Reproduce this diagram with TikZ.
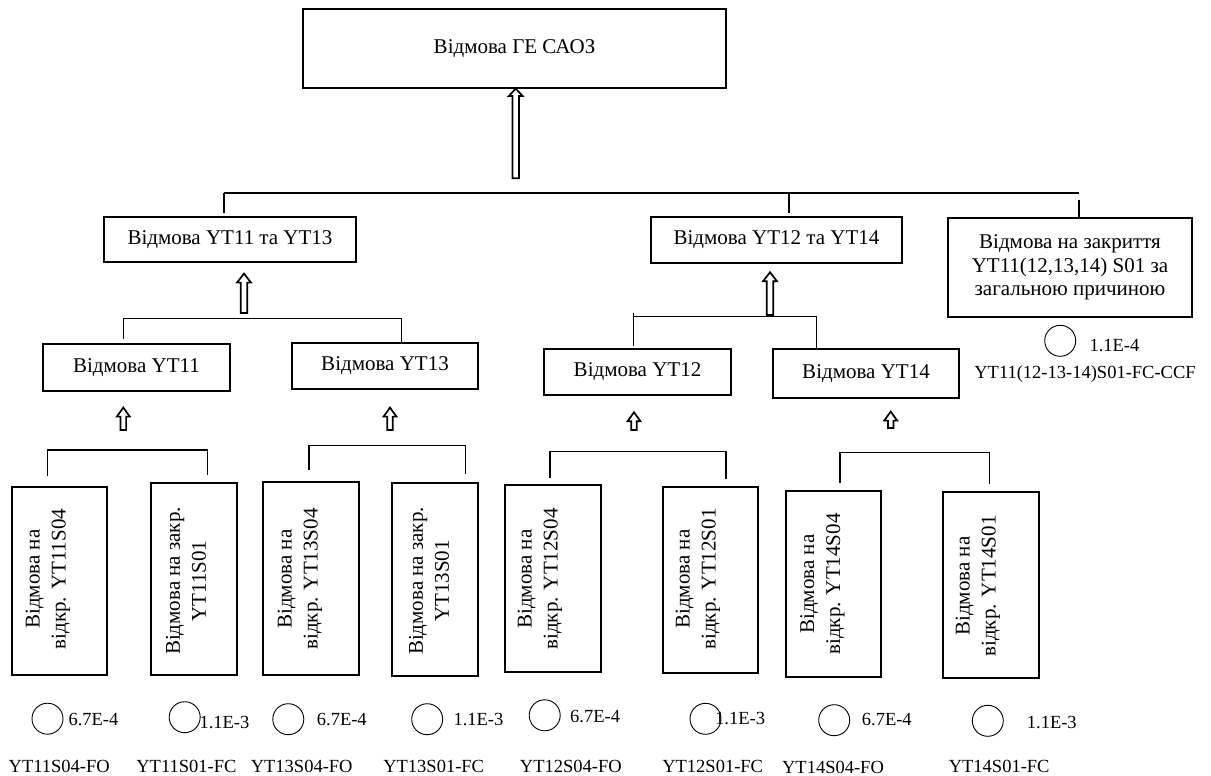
\documentclass[tikz,border=0pt]{standalone}
\usepackage{fontspec}
\setmainfont{Liberation Serif}
\usetikzlibrary{calc}
\begin{document}
\begin{tikzpicture}[x=1pt,y=-1pt,
  box/.style={draw, line width=1.2pt, inner sep=0pt, align=center,
    font=\fontsize{21}{23.5}\selectfont},
  vbox/.style={draw, line width=1.2pt, inner sep=0pt},
  vtext/.style={rotate=90, align=center, inner sep=0pt,
    font=\fontsize{21}{26}\selectfont},
  basic/.style={draw, circle, line width=0.9pt, minimum size=31pt, inner sep=0pt},
  prob/.style={anchor=west, inner sep=0pt, font=\fontsize{18.5}{21}\selectfont},
  evcode/.style={inner sep=0pt, font=\fontsize{18.5}{21}\selectfont},
  link/.style={line width=1.2pt},
  blockarrow/.style n args={3}{line width=1.7pt, to path={
    let \p1=(\tikztostart), \p2=(\tikztotarget) in
    (\x1-#1,\y1) -- (\x1-#1,\y2-#3) -- (\x1-#2,\y2-#3) -- (\x1,\y2)
    -- (\x1+#2,\y2-#3) -- (\x1+#1,\y2-#3) -- (\x1+#1,\y1) -- cycle}},
]
\useasboundingbox (0,0) rectangle (1211,776);

% top event
\node[box, minimum width=423pt, minimum height=79pt] (top) at (514.5,48.5) {Відмова ГЕ САОЗ};

% intermediate events
\node[box, minimum width=252pt, minimum height=45pt] (A) at (230,239.5) {Відмова YT11 та YT13};
\node[box, minimum width=251pt, minimum height=46pt] (B) at (776.5,240) {Відмова YT12 та YT14};
\node[box, minimum width=244pt, minimum height=99pt] (C) at (1070,267.5)
  {Відмова на закриття\\YT11(12,13,14) S01 за\\загальною причиною};

\node[box, minimum width=187pt, minimum height=47pt] (D) at (136.5,367.5) {Відмова YT11};
\node[box, minimum width=186pt, minimum height=46pt] (E) at (385,366) {Відмова YT13};
\node[box, minimum width=187pt, minimum height=46pt] (F) at (637.5,372) {Відмова YT12};
\node[box, minimum width=186pt, minimum height=49pt] (G) at (866,373.5) {Відмова YT14};

% valve failure boxes with vertical captions
\node[vbox, minimum width=95pt, minimum height=188pt] (b1) at (59.5,581) {};
\node[vbox, minimum width=86pt, minimum height=192pt] (b2) at (194,579) {};
\node[vbox, minimum width=96pt, minimum height=193pt] (b3) at (311,578.5) {};
\node[vbox, minimum width=86pt, minimum height=193pt] (b4) at (435,579.5) {};
\node[vbox, minimum width=96pt, minimum height=187pt] (b5) at (553,578.5) {};
\node[vbox, minimum width=95pt, minimum height=186pt] (b6) at (710.5,580) {};
\node[vbox, minimum width=95pt, minimum height=186pt] (b7) at (833.5,584) {};
\node[vbox, minimum width=96pt, minimum height=186pt] (b8) at (991,585) {};

\node[vtext] (t1) at (48,579) {Відмова на\\відкр. YT11S04};
\node[vtext] (t2) at (186,581) {Відмова на закр.\\YT11S01};
\node[vtext] (t3) at (300,579) {Відмова на\\відкр. YT13S04};
\node[vtext] (t4) at (429,581) {Відмова на закр.\\YT13S01};
\node[vtext] (t5) at (540,579) {Відмова на\\відкр. YT12S04};
\node[vtext] (t6) at (698,579) {Відмова на\\відкр. YT12S01};
\node[vtext] (t7) at (822.5,584) {Відмова на\\відкр. YT14S04};
\node[vtext] (t8) at (978,586) {Відмова на\\відкр. YT14S01};

% basic events
\node[basic] (c1) at (47.5,718.7) {};
\node[basic] (c2) at (184.7,717.2) {};
\node[basic] (c3) at (288.3,719.2) {};
\node[basic] (c4) at (427.2,719.2) {};
\node[basic] (c5) at (544.7,715.3) {};
\node[basic] (c6) at (705.5,718.8) {};
\node[basic] (c7) at (834.2,720.2) {};
\node[basic] (c8) at (987.8,720.8) {};
\node[basic] (cc) at (1060.2,340.8) {};

\node[prob] (p1) at (68.3,719.7) {6.7E-4};
\node[prob] (p2) at (199.3,722.3) {1.1E-3};
\node[prob] (p3) at (316.7,720) {6.7E-4};
\node[prob] (p4) at (453.3,720) {1.1E-3};
\node[prob] (p5) at (570,716.7) {6.7E-4};
\node[prob] (p6) at (715,718.3) {1.1E-3};
\node[prob] (p7) at (861.7,719.3) {6.7E-4};
\node[prob] (p8) at (1026.7,722.7) {1.1E-3};
\node[prob] (pc) at (1089.3,345.7) {1.1E-4};

\node[evcode] (l1) at (59.2,766) {YT11S04-FO};
\node[evcode] (l2) at (186.4,766) {YT11S01-FC};
\node[evcode] (l3) at (301.7,766) {YT13S04-FO};
\node[evcode] (l4) at (433.7,766) {YT13S01-FC};
\node[evcode] (l5) at (570.8,766) {YT12S04-FO};
\node[evcode] (l6) at (712.7,766) {YT12S01-FC};
\node[evcode] (l7) at (833,767) {YT14S04-FO};
\node[evcode] (l8) at (999.2,766) {YT14S01-FC};
\node[evcode] (lc) at (1085,374.3) {YT11(12-13-14)S01-FC-CCF};

% first level bus and top arrow
\coordinate (busL) at (224,193);
\coordinate (busB) at (789,193);
\coordinate (busR) at (1079,193);
\coordinate (j0) at (515.7,178.3);
\draw[link] (busL) -- (busR);
\draw[link, shorten >=3pt] (busL) -- (busL |- A.north);
\draw[link, shorten >=3pt] (busB) -- (busB |- B.north);
\draw[link, shorten <=7pt] (busR) -- (busR |- C.north);
\draw[blockarrow={3.3pt}{7pt}{7.5pt}] (j0) to (j0 |- top.south);

% YT11 / YT13 branch
\coordinate (aL) at (123.3,318.3);
\coordinate (aR) at (401.7,318.3);
\coordinate (aT) at (244,313);
\draw[link, shorten <=4pt] (D.north -| aL) |- (aR) -- (E.north -| aR);
\draw[blockarrow={3.3pt}{7pt}{9pt}] (aT) to ([yshift=-11pt]A.south -| aT);

% YT12 / YT14 branch
\coordinate (bL) at (633.3,316.7);
\coordinate (bR) at (816.7,316.7);
\coordinate (bT) at (770,315);
\draw[link, shorten <=2.5pt, shorten >=-3.7pt] (F.north -| bL) -- (bL);
\draw[link] (bL) -- (bR) -- (G.north -| bR);
\draw[blockarrow={3.3pt}{7pt}{9pt}] (bT) to ([yshift=-8.7pt]B.south -| bT);

% valve pairs
\coordinate (dL) at (47.7,450);
\coordinate (dR) at (207.3,450);
\coordinate (dT) at (123.3,430);
\draw[link, shorten <=10pt, shorten >=7pt] (b1.north -| dL) |- (dR) -- (b2.north -| dR);
\draw[blockarrow={2.8pt}{6.5pt}{9pt}] (dT) to ([yshift=-16pt]D.south -| dT);

\coordinate (eL) at (309,445.7);
\coordinate (eR) at (465.7,445.7);
\coordinate (eT) at (390,430);
\draw[link, shorten <=11.3pt, shorten >=8pt] (b3.north -| eL) |- (eR) -- (b4.north -| eR);
\draw[blockarrow={2.8pt}{6.5pt}{9pt}] (eT) to ([yshift=-18pt]E.south -| eT);

\coordinate (fL) at (550,451.3);
\coordinate (fR) at (726,451.3);
\coordinate (fT) at (634,430);
\draw[link, shorten <=6pt, shorten >=7pt] (b5.north -| fL) |- (fR) -- (b6.north -| fR);
\draw[blockarrow={2.8pt}{6.5pt}{9pt}] (fT) to ([yshift=-16.7pt]F.south -| fT);

\coordinate (gL) at (840,452.7);
\coordinate (gR) at (989.3,452.7);
\coordinate (gT) at (890.7,428);
\draw[link, shorten <=7.7pt, shorten >=7.7pt] (b7.north -| gL) |- (gR) -- (b8.north -| gR);
\draw[blockarrow={2.8pt}{6.5pt}{9pt}] (gT) to ([yshift=-13pt]G.south -| gT);
\end{tikzpicture}
\end{document}
